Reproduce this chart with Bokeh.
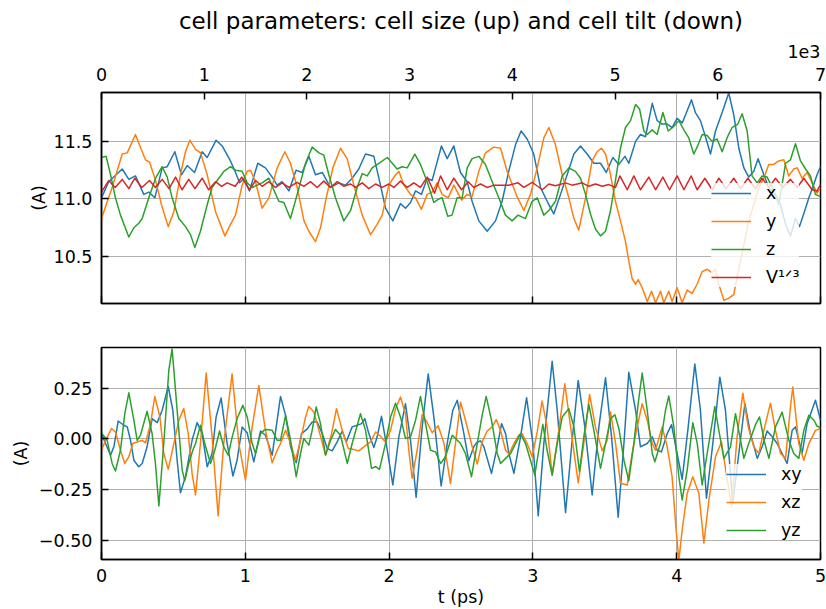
from bokeh.plotting import figure
from bokeh.models import (Range1d, LinearAxis, FixedTicker, CustomJSTickFormatter,
                          Legend, LegendItem, Title)
from bokeh.layouts import column
from bokeh.embed import file_html
from bokeh.resources import INLINE

# ---------------- data: cell size (top) ----------------
t_x = [0.0, 0.05, 0.144, 0.190, 0.236, 0.294, 0.329, 0.371, 0.422, 0.457, 0.510, 0.556, 0.596, 0.647, 0.700, 0.735,
       0.797, 0.839, 0.897, 0.932, 0.960, 0.990, 1.029, 1.087, 1.140, 1.187, 1.221, 1.256, 1.303, 1.353, 1.395, 1.442,
       1.488, 1.535, 1.592, 1.651,
       1.697, 1.743, 1.789, 1.836, 1.894, 1.940, 1.975, 2.026, 2.079, 2.114, 2.149, 2.184, 2.225, 2.265, 2.299, 2.323,
       2.364, 2.404, 2.450, 2.496, 2.543, 2.577, 2.624, 2.682, 2.740, 2.786, 2.832, 2.879, 2.918, 2.960, 3.006, 3.053,
       3.099, 3.145, 3.192, 3.238, 3.285,
       3.331, 3.377, 3.424, 3.470, 3.510, 3.556, 3.598, 3.640, 3.667, 3.714, 3.748, 3.783, 3.830, 3.864, 3.899, 3.934,
       3.968, 4.003, 4.038, 4.068, 4.103, 4.130, 4.165, 4.200, 4.235, 4.270, 4.316, 4.362, 4.397, 4.432, 4.467, 4.501,
       4.536, 4.566, 4.606, 4.640, 4.687, 4.722, 4.757, 4.791, 4.826, 4.854, 4.896, 4.919, 4.946, 4.976, 5.0]
size_x = [11.01, 11.15, 11.26, 11.17, 11.20, 11.04, 11.06, 11.01, 11.27, 11.28, 11.41, 11.21, 11.29, 11.23, 11.41, 11.36,
          11.51, 11.46, 11.33, 11.23, 11.14, 11.18, 11.07, 11.31, 11.27, 11.19, 11.12, 11.15, 11.07, 11.25, 11.23, 11.37,
          11.21, 11.23, 11.10, 11.14,
          11.12, 11.18, 11.26, 11.39, 11.37, 11.12, 10.92, 10.81, 10.96, 10.92, 10.97, 11.07, 11.04, 11.18, 11.16, 11.27,
          11.46, 11.35, 11.46, 11.23, 11.15, 10.98, 10.81, 10.72, 10.81, 10.98, 11.24, 11.47, 11.59, 11.52, 11.39, 11.10,
          10.98, 10.87, 11.04, 11.21, 11.39,
          11.46, 11.39, 11.31, 11.31, 11.23, 11.36, 11.30, 11.37, 11.31, 11.50, 11.56, 11.54, 11.83, 11.68, 11.65, 11.65,
          11.62, 11.70, 11.66, 11.75, 11.86, 11.75, 11.68, 11.54, 11.39, 11.59, 11.75, 11.92, 11.73, 11.44, 11.27, 11.19,
          11.24, 11.35, 11.21, 11.10, 11.04, 10.95, 10.78, 10.68, 10.83, 10.76, 10.92, 11.01, 11.10, 11.21, 11.28]

t_y = [0.0, 0.074, 0.144, 0.179, 0.236, 0.283, 0.306, 0.334, 0.376, 0.417, 0.464, 0.503, 0.549, 0.584, 0.614, 0.654,
       0.689, 0.735, 0.793, 0.858, 0.897, 0.932, 0.978, 1.013, 1.036, 1.071, 1.117, 1.164, 1.222, 1.275, 1.314, 1.361,
       1.408, 1.442, 1.488, 1.523, 1.558, 1.609, 1.662,
       1.708, 1.755, 1.813, 1.871, 1.917, 1.952, 1.998, 2.033, 2.068, 2.103, 2.149, 2.184, 2.225, 2.265, 2.299, 2.334,
       2.369, 2.411, 2.450, 2.504, 2.543, 2.577, 2.624, 2.670, 2.728, 2.775, 2.821, 2.890, 2.937, 2.983, 3.030, 3.076,
       3.111, 3.157, 3.204, 3.250, 3.285,
       3.319, 3.366, 3.412, 3.447, 3.477, 3.505, 3.540, 3.574, 3.609, 3.644, 3.667, 3.690, 3.714, 3.732, 3.760, 3.795,
       3.825, 3.853, 3.888, 3.910, 3.945, 3.968, 4.003, 4.038, 4.073, 4.107, 4.142, 4.177, 4.212, 4.246, 4.270, 4.293,
       4.328, 4.362, 4.397, 4.432, 4.467, 4.501, 4.536, 4.571, 4.606, 4.640, 4.675, 4.710, 4.745, 4.779, 4.814, 4.838,
       4.872, 4.907, 4.942, 4.976, 5.0]
size_y = [10.83, 11.10, 11.39, 11.40, 11.56, 11.41, 11.34, 11.32, 11.16, 10.95, 10.76, 10.89, 11.21, 11.41, 11.51, 11.43,
          11.40, 11.21, 10.89, 10.68, 10.78, 10.86, 11.12, 11.24, 11.25, 11.15, 10.92, 11.01, 11.27, 11.41, 11.31, 11.10,
          10.81, 10.72, 10.63, 10.75, 10.98, 11.27, 11.44,
          11.35, 11.12, 10.86, 10.69, 10.78, 10.86, 11.12, 11.19, 11.24, 11.12, 11.04, 11.01, 10.91, 11.04, 11.06, 11.14,
          11.04, 11.01, 11.12, 10.99, 11.04, 11.02, 11.24, 11.40, 11.45, 11.44, 11.24, 11.02, 10.90, 11.04, 11.27, 11.53,
          11.62, 11.47, 11.21, 11.01, 10.83,
          10.73, 11.01, 11.33, 11.41, 11.44, 11.39, 11.21, 10.98, 10.81, 10.63, 10.46, 10.31, 10.26, 10.30, 10.23, 10.11,
          10.20, 10.10, 10.20, 10.10, 10.20, 10.11, 10.23, 10.10, 10.21, 10.18, 10.26, 10.37, 10.39, 10.36, 10.39, 10.26,
          10.12, 10.14, 10.17, 10.40, 10.60, 10.81, 10.95, 11.10, 11.18, 11.30, 11.30, 11.33, 11.34, 11.20, 11.26, 11.27,
          11.18, 11.23, 11.14, 11.05, 11.10]

t_z = [0.0, 0.032, 0.063, 0.097, 0.132, 0.190, 0.225, 0.259, 0.283, 0.329, 0.376, 0.422, 0.457, 0.491, 0.538, 0.584,
       0.619, 0.649, 0.688, 0.735, 0.769, 0.816, 0.851, 0.897, 0.932, 0.978, 1.013, 1.048, 1.083, 1.117, 1.164, 1.198,
       1.233, 1.268, 1.314, 1.361, 1.419, 1.465, 1.512, 1.546, 1.581, 1.627,
       1.685, 1.732, 1.778, 1.813, 1.848, 1.882, 1.929, 1.987, 2.022, 2.056, 2.091, 2.126, 2.179, 2.218, 2.265, 2.311,
       2.346, 2.369, 2.408, 2.438, 2.473, 2.508, 2.543, 2.577, 2.624, 2.670, 2.717, 2.763, 2.809, 2.855, 2.897, 2.948,
       2.995, 3.030, 3.076, 3.111, 3.157, 3.204, 3.250,
       3.296, 3.331, 3.366, 3.400, 3.435, 3.470, 3.505, 3.540, 3.574, 3.609, 3.644, 3.679, 3.714, 3.742, 3.772, 3.795,
       3.830, 3.864, 3.904, 3.941, 3.980, 4.015, 4.050, 4.084, 4.119, 4.149, 4.177, 4.212, 4.246, 4.281, 4.316, 4.350,
       4.385, 4.425, 4.455, 4.490, 4.524, 4.559, 4.594, 4.629, 4.664, 4.710, 4.757, 4.791, 4.826, 4.861, 4.896, 4.930,
       4.965, 5.0]
size_z = [11.36, 11.37, 11.21, 11.01, 10.86, 10.67, 10.75, 10.79, 10.83, 11.01, 11.18, 11.28, 11.19, 11.01, 10.83, 10.76,
          10.69, 10.58, 10.72, 10.95, 11.10, 11.18, 11.24, 11.28, 11.25, 11.24, 11.14, 11.10, 11.12, 11.14, 11.18, 11.08,
          10.98, 10.97, 10.83, 11.04, 11.31, 11.45, 11.40, 11.38, 11.21, 11.01,
          10.81, 10.90, 11.10, 11.22, 11.20, 11.27, 11.31, 11.36, 11.31, 11.26, 11.28, 11.27, 11.39, 11.30, 11.15, 10.97,
          11.00, 11.01, 10.85, 10.86, 11.01, 11.01, 11.27, 11.35, 11.37, 11.30, 11.15, 11.01, 10.86, 10.81, 10.86, 10.83,
          10.98, 11.01, 10.86, 10.90, 10.98, 11.20, 11.27,
          11.24, 11.18, 11.04, 10.87, 10.74, 10.68, 10.72, 10.90, 11.16, 11.44, 11.62, 11.68, 11.82, 11.78, 11.59, 11.56,
          11.60, 11.56, 11.75, 11.59, 11.63, 11.68, 11.60, 11.53, 11.39, 11.47, 11.56, 11.55, 11.50, 11.52, 11.41, 11.53,
          11.62, 11.65, 11.74, 11.59, 11.20, 11.14, 11.20, 11.19, 11.10, 10.95, 11.31, 11.34, 11.48, 11.33, 11.26, 11.20,
          11.04, 11.02]

t_v = [0.0, 0.05, 0.095, 0.144, 0.19, 0.232, 0.28, 0.334, 0.375, 0.422, 0.47, 0.515, 0.56, 0.607, 0.65, 0.70, 0.745,
       0.793, 0.835, 0.874, 0.93, 0.975, 1.029,
       1.071, 1.117, 1.164, 1.21, 1.256, 1.303, 1.36, 1.407, 1.453, 1.50, 1.546, 1.592, 1.64, 1.685,
       1.732, 1.766, 1.813, 1.859, 1.906, 1.952, 1.998, 2.033, 2.079, 2.126, 2.172, 2.218, 2.265, 2.316, 2.358, 2.404,
       2.450, 2.504, 2.550, 2.590, 2.636, 2.682, 2.728, 2.786, 2.832, 2.897, 2.937, 2.995, 3.065, 3.111, 3.157, 3.227,
       3.273,
       3.343, 3.389, 3.435, 3.482, 3.528, 3.574, 3.605, 3.656, 3.702, 3.748, 3.806, 3.853, 3.904, 3.950, 4.003, 4.050,
       4.101, 4.142, 4.196, 4.247, 4.293, 4.344, 4.397, 4.444, 4.495, 4.548, 4.594, 4.640, 4.687, 4.738, 4.791, 4.838,
       4.884, 4.942, 4.976, 5.0]
size_v = [11.06, 11.16, 11.10, 11.17, 11.09, 11.18, 11.10, 11.16, 11.10, 11.17, 11.09, 11.19, 11.08, 11.17, 11.09, 11.18,
          11.08, 11.15, 11.11, 11.14, 11.11, 11.19, 11.08,
          11.16, 11.11, 11.15, 11.10, 11.14, 11.10, 11.145, 11.11, 11.15, 11.10, 11.155, 11.10, 11.15, 11.11,
          11.13, 11.10, 11.14, 11.09, 11.13, 11.10, 11.13, 11.10, 11.155, 11.10, 11.14, 11.10, 11.19, 11.05, 11.20, 11.08,
          11.18, 11.08, 11.15, 11.10, 11.13, 11.10, 11.12, 11.12, 11.12, 11.14, 11.10, 11.145, 11.08, 11.13, 11.115, 11.14,
          11.12,
          11.14, 11.11, 11.13, 11.11, 11.125, 11.10, 11.20, 11.08, 11.20, 11.08, 11.19, 11.08, 11.19, 11.08, 11.20, 11.08,
          11.20, 11.08, 11.18, 11.08, 11.18, 11.09, 11.18, 11.09, 11.18, 11.09, 11.18, 11.10, 11.18, 11.10, 11.17, 11.10,
          11.18, 11.08, 11.07, 11.125]

# ---------------- data: cell tilt (bottom) ----------------
t_xy = [0.0, 0.028, 0.063, 0.086, 0.116, 0.155, 0.179, 0.202, 0.225, 0.259, 0.283, 0.317, 0.352, 0.387, 0.422, 0.464,
        0.496, 0.526, 0.549, 0.584, 0.630, 0.665, 0.700, 0.735, 0.769, 0.797, 0.832, 0.874, 0.914, 0.943, 0.978, 1.013,
        1.059, 1.106, 1.140, 1.187,
        1.245, 1.280, 1.315, 1.354, 1.391, 1.431, 1.465, 1.500, 1.535, 1.570, 1.604, 1.639, 1.674, 1.702, 1.743, 1.778,
        1.808, 1.831, 1.859, 1.894, 1.917, 1.947, 1.980, 2.026, 2.068, 2.114, 2.149, 2.188, 2.230, 2.272, 2.311, 2.362,
        2.404, 2.443, 2.474,
        2.520, 2.554, 2.589, 2.613, 2.636, 2.659, 2.712, 2.752, 2.782, 2.810, 2.833, 2.868, 2.914, 2.956, 3.000, 3.037,
        3.076, 3.134, 3.169, 3.227, 3.273, 3.315, 3.361, 3.412, 3.459, 3.505, 3.547, 3.593, 3.633, 3.667, 3.714, 3.748,
        3.795, 3.830, 3.864, 3.894, 3.934, 3.964, 4.003, 4.038, 4.080, 4.126, 4.165, 4.207, 4.251, 4.300, 4.339, 4.390,
        4.432, 4.474, 4.513, 4.560, 4.594, 4.629, 4.664, 4.699, 4.733, 4.768, 4.803, 4.826, 4.872, 4.907, 4.965, 5.0]
tilt_xy = [0.026, -0.023, -0.080, -0.039, 0.088, 0.067, 0.059, -0.007, -0.105, -0.137, -0.121, -0.039, 0.100, 0.080,
           0.141, 0.258, 0.141, -0.105, -0.265, -0.186, -0.007, 0.080, 0.026, -0.137, -0.072, 0.108, 0.201, -0.023,
           -0.183, -0.105, 0.059, 0.030, -0.113, 0.039, 0.018, -0.080,
           0.209, 0.116, -0.039, -0.118, 0.026, 0.049, 0.083, 0.083, 0.026, -0.047, -0.059, -0.015, 0.039, -0.015, 0.059,
           0.067, 0.075, 0.100, 0.026, -0.042, 0.010, 0.111, -0.023, -0.227, 0.010, 0.173, -0.007, -0.288, 0.059, 0.320,
           0.108, -0.232, -0.023, 0.141, 0.190,
           0.026, -0.108, -0.039, -0.015, -0.010, -0.039, -0.170, -0.039, 0.075, 0.026, -0.072, -0.170, 0.010, 0.203,
           -0.023, -0.379, -0.023, 0.382, 0.141, -0.363, -0.007, 0.288, 0.059, -0.276, 0.059, 0.301, 0.010, -0.386,
           -0.023, 0.328, 0.141, -0.039,
           -0.023, 0.010, -0.056, -0.064, 0.026, 0.070, -0.072, -0.199, 0.059, 0.369, 0.141, -0.292, -0.023, 0.304,
           0.141, -0.317, -0.072, 0.173, 0.026, -0.096, -0.039, 0.039, 0.010, -0.023, -0.072, -0.121, 0.042, 0.059,
           -0.072, 0.075, 0.190, 0.092]

t_xz = [0.0, 0.028, 0.070, 0.097, 0.132, 0.162, 0.190, 0.218, 0.248, 0.283, 0.306, 0.341, 0.371, 0.406, 0.433, 0.464,
        0.503, 0.538, 0.572, 0.603, 0.630, 0.654, 0.688, 0.728, 0.769, 0.811, 0.850, 0.908, 0.955, 1.001, 1.048, 1.094,
        1.140, 1.187, 1.222,
        1.245, 1.280, 1.315, 1.349, 1.384, 1.419, 1.442, 1.477, 1.512, 1.558, 1.600, 1.634, 1.674, 1.716, 1.755, 1.790,
        1.824, 1.871, 1.906, 1.940, 1.975, 2.010, 2.045, 2.079, 2.114, 2.137, 2.160, 2.195, 2.230, 2.265, 2.300, 2.341,
        2.381, 2.427, 2.462,
        2.497, 2.531, 2.578, 2.613, 2.647, 2.682, 2.717, 2.745, 2.775, 2.810, 2.833, 2.868, 2.902, 2.925, 2.960, 2.995,
        3.030, 3.064, 3.099, 3.134, 3.180, 3.222, 3.262, 3.315, 3.354, 3.394, 3.435, 3.482, 3.517, 3.540, 3.575, 3.609,
        3.656, 3.690, 3.725,
        3.760, 3.795, 3.830, 3.852, 3.899, 3.934, 3.968, 3.996, 4.015, 4.038, 4.073, 4.112, 4.154, 4.189, 4.224, 4.270,
        4.311, 4.351, 4.381, 4.420, 4.460, 4.497, 4.536, 4.571, 4.606, 4.652, 4.687, 4.722, 4.757, 4.791, 4.807, 4.849,
        4.884, 4.919, 4.965, 5.0]
tilt_xz = [-0.056, -0.007, 0.051, 0.034, -0.056, -0.121, -0.088, -0.023, -0.015, -0.007, -0.020, 0.075, 0.209, 0.108,
           -0.072, -0.150, -0.023, 0.092, 0.149, 0.026, -0.170, -0.276, -0.023, 0.324, 0.010, -0.379, -0.023, 0.320,
           -0.023, -0.203, 0.059, 0.263, 0.042, -0.118, -0.056,
           -0.023, 0.042, -0.023, -0.105, -0.007, 0.108, 0.160, 0.132, 0.042, -0.080, 0.026, 0.149, 0.042, -0.047,
           -0.052, -0.059, -0.039, -0.015, 0.034, 0.013, -0.015, 0.042, 0.149, 0.206, 0.124, -0.056, -0.194, -0.056,
           0.12, 0.08, 0.03, 0.065, -0.02, -0.22, -0.02,
           0.181, 0.092, -0.039, -0.124, -0.015, 0.039, 0.059, 0.095, 0.042, -0.056, -0.075, -0.023, 0.018, 0.026,
           -0.023, -0.088, 0.034, 0.186, 0.059, -0.178, 0.042, 0.271, 0.059, -0.216, -0.023, 0.219, 0.059, -0.059,
           -0.007, 0.132, -0.023, -0.219, -0.227, -0.072, 0.059,
           0.173, 0.092, -0.023, -0.056, 0.059, -0.039, -0.186, -0.448, -0.60, -0.448, -0.268, -0.186, -0.268, -0.513,
           -0.301, -0.088, -0.015, -0.20, -0.33, 0.010, 0.225, 0.059, -0.039, -0.072, 0.042, 0.176, 0.042, -0.072,
           -0.096, 0.157, 0.255, -0.023, -0.105, -0.023, 0.042, 0.051]

t_yz = [0.0, 0.039, 0.074, 0.097, 0.132, 0.162, 0.190, 0.225, 0.248, 0.271, 0.317, 0.352, 0.375, 0.399, 0.433, 0.468,
        0.491, 0.526, 0.561, 0.579, 0.607, 0.635, 0.654, 0.688, 0.718, 0.758, 0.788, 0.821, 0.850, 0.881, 0.909, 0.943,
        0.983, 1.013, 1.048, 1.071, 1.106, 1.129, 1.152, 1.187, 1.222,
        1.245, 1.280, 1.315, 1.354, 1.384, 1.407, 1.442, 1.465, 1.493, 1.523, 1.558, 1.593, 1.627, 1.662, 1.709, 1.743,
        1.801, 1.836, 1.878, 1.906, 1.933, 1.975, 2.010, 2.045, 2.079, 2.114, 2.149, 2.184, 2.218, 2.253, 2.288, 2.323,
        2.358, 2.392, 2.439,
        2.497, 2.531, 2.573, 2.613, 2.647, 2.675, 2.712, 2.752, 2.775, 2.810, 2.845, 2.879, 2.914, 2.949, 2.983, 3.013,
        3.041, 3.069, 3.099, 3.134, 3.169, 3.204, 3.250, 3.285, 3.324, 3.354, 3.389, 3.424, 3.470, 3.505, 3.540, 3.570,
        3.598, 3.633, 3.667, 3.702, 3.732, 3.760,
        3.795, 3.830, 3.848, 3.887, 3.922, 3.945, 3.980, 4.015, 4.038, 4.073, 4.112, 4.143, 4.177, 4.212, 4.265, 4.293,
        4.328, 4.374, 4.409, 4.444, 4.467, 4.501, 4.548, 4.576, 4.613, 4.641, 4.687, 4.733, 4.780, 4.814, 4.849, 4.884,
        4.919, 4.954, 4.977, 5.0]
tilt_yz = [0.029, -0.007, -0.121, -0.158, -0.056, 0.124, 0.227, 0.092, -0.007, 0.018, 0.136, 0.026, -0.121, -0.330,
           -0.023, 0.337, 0.443, 0.141, -0.154, -0.206, -0.121, -0.056, -0.023, 0.067, -0.023, -0.121, -0.056, 0.039,
           -0.039, -0.080, 0.010, 0.100, 0.165, 0.108, -0.023, -0.072, 0.026, 0.042, 0.046, 0.042, -0.007,
           -0.007, 0.116, -0.007, -0.186, -0.072, 0.002, -0.031, 0.042, 0.157, 0.075, -0.080, -0.007, 0.046, 0.018,
           -0.121, -0.023, 0.124, 0.042, -0.145, -0.137, -0.150, -0.023, 0.108, 0.176, 0.108, 0.002, 0.010, 0.092,
           0.209, 0.075, -0.056, -0.064, -0.121, -0.088, 0.018,
           -0.023, -0.072, -0.186, -0.023, 0.116, 0.209, 0.092, -0.072, -0.121, -0.096, -0.072, -0.023, 0.026, -0.023,
           -0.105, -0.178, -0.056, 0.072, -0.056, -0.178, -0.023, 0.108, 0.149, 0.059, -0.162, 0.010, 0.170, 0.042,
           -0.145, -0.023, 0.100, 0.119, 0.051, -0.105, -0.206, -0.023, 0.173, 0.324,
           0.141, -0.072, -0.113, -0.023, 0.141, 0.211, 0.059, -0.186, -0.301, -0.154, 0.080, -0.023, -0.227, -0.072,
           0.160, 0.042, -0.096, -0.039, 0.124, -0.007, -0.096, -0.023, 0.070, 0.108, -0.023, -0.096, 0.059, 0.132,
           -0.007, -0.072, -0.096, 0.042, 0.116, 0.092, 0.062, 0.056]

# ---------------- ticks / labels ----------------
t_ticks = [0, 1, 2, 3, 4, 5]
step_ticks = [0, 1, 2, 3, 4, 5, 6, 7]
size_ticks = [10.5, 11.0, 11.5]
tilt_ticks = [-0.5, -0.25, 0.0, 0.25]
size_labels = ["x", "y", "z", "V\u00b9\u141f\u00b3"]
tilt_labels = ["xy", "xz", "yz"]
COLORS = ["#1f77b4", "#ff7f0e", "#2ca02c", "#d62728"]

FONT = "DejaVu Sans"
FS = "17.5px"
LW = 1.5


def fmt(d):
    return CustomJSTickFormatter(code="return tick.toFixed(%d).replace('-', '\\u2212');" % d)


def style_axis(ax, standoff=9):
    ax.major_tick_in = 7
    ax.major_tick_out = 0
    ax.minor_tick_in = 0
    ax.minor_tick_out = 0
    ax.axis_line_width = 1.5
    ax.axis_line_color = "black"
    ax.major_tick_line_width = 1.5
    ax.major_tick_line_color = "black"
    ax.minor_tick_line_width = 1.5
    ax.minor_tick_line_color = "black"
    ax.major_label_text_font = FONT
    ax.major_label_text_font_size = FS
    ax.major_label_text_color = "black"
    ax.major_label_standoff = standoff
    ax.axis_label_text_font = FONT
    ax.axis_label_text_font_size = FS
    ax.axis_label_text_font_style = "normal"
    ax.axis_label_text_color = "black"


def style_fig(p):
    p.outline_line_color = "black"
    p.outline_line_width = 1.5
    p.xgrid.grid_line_color = "#b0b0b0"
    p.ygrid.grid_line_color = "#b0b0b0"
    p.xgrid.grid_line_width = 1
    p.ygrid.grid_line_width = 1


def make_legend(items, x, y):
    return Legend(items=items, location=(x, y), orientation="vertical",
                  glyph_width=40, glyph_height=20, label_height=20, label_standoff=15,
                  spacing=8, padding=8, margin=0,
                  background_fill_color="white", background_fill_alpha=0.8,
                  border_line_color=None,
                  label_text_font=FONT, label_text_font_size=FS, label_text_color="black")


# ---------------- top figure ----------------
top = figure(width=826, height=325, title=None, x_range=Range1d(0, 5), y_range=Range1d(10.093, 11.924),
             output_backend="svg", toolbar_location=None,
             min_border_left=101, min_border_right=6, min_border_top=92, min_border_bottom=22)
top.extra_x_ranges = {"step": Range1d(0, 7)}
style_fig(top)

# bottom edge of the upper panel: inward tick marks only (no labels) -> drawn as minor ticks
top.xaxis.ticker = FixedTicker(ticks=[], minor_ticks=t_ticks)
style_axis(top.xaxis[0], standoff=0)
top.xaxis[0].minor_tick_in = 7
top.xgrid.ticker = FixedTicker(ticks=t_ticks)

top.yaxis.ticker = FixedTicker(ticks=size_ticks)
top.yaxis.formatter = fmt(1)
top.yaxis.axis_label = "(A)"
style_axis(top.yaxis[0])
top.yaxis[0].axis_label_standoff = 2

step_axis = LinearAxis(x_range_name="step", ticker=FixedTicker(ticks=step_ticks), formatter=fmt(0))
style_axis(step_axis, standoff=12)
top.add_layout(step_axis, "above")
top.add_layout(Title(text="1e3", align="right", text_font=FONT, text_font_size=FS,
                     text_font_style="normal", text_color="black", standoff=13), "above")
top.add_layout(Title(text="cell parameters: cell size (up) and cell tilt (down)", align="center",
                     text_font=FONT, text_font_size="23px", text_font_style="normal",
                     text_color="black", standoff=6), "above")

top_series = [(t_x, size_x), (t_y, size_y), (t_z, size_z), (t_v, size_v)]
top_items = []
for (tt, vv), col, lab in zip(top_series, COLORS, size_labels):
    r = top.line(tt, vv, line_color=col, line_width=LW, line_join="round")
    top_items.append(LegendItem(label=lab, renderers=[r]))
top.add_layout(make_legend(top_items, 610, 16))

# ---------------- bottom figure ----------------
bot = figure(width=826, height=284, title=None, x_range=Range1d(0, 5), y_range=Range1d(-0.594, 0.450),
             output_backend="svg", toolbar_location=None,
             min_border_left=101, min_border_right=6, min_border_top=22, min_border_bottom=50)
style_fig(bot)
bot.xaxis.ticker = FixedTicker(ticks=t_ticks)
bot.xaxis.formatter = fmt(0)
bot.xaxis.axis_label = "t (ps)"
style_axis(bot.xaxis[0])
bot.xaxis[0].axis_label_standoff = 2
bot.yaxis.ticker = FixedTicker(ticks=tilt_ticks)
bot.yaxis.formatter = fmt(2)
bot.yaxis.axis_label = "(A)"
style_axis(bot.yaxis[0])
bot.yaxis[0].axis_label_standoff = 5

bot_series = [(t_xy, tilt_xy), (t_xz, tilt_xz), (t_yz, tilt_yz)]
bot_items = []
for (tt, vv), col, lab in zip(bot_series, COLORS, tilt_labels):
    r = bot.line(tt, vv, line_color=col, line_width=LW, line_join="round")
    bot_items.append(LegendItem(label=lab, renderers=[r]))
bot.add_layout(make_legend(bot_items, 625, 19))

layout = column(top, bot, spacing=0)
open("out.html", "w").write(file_html(layout, INLINE, title="cell parameters"))
